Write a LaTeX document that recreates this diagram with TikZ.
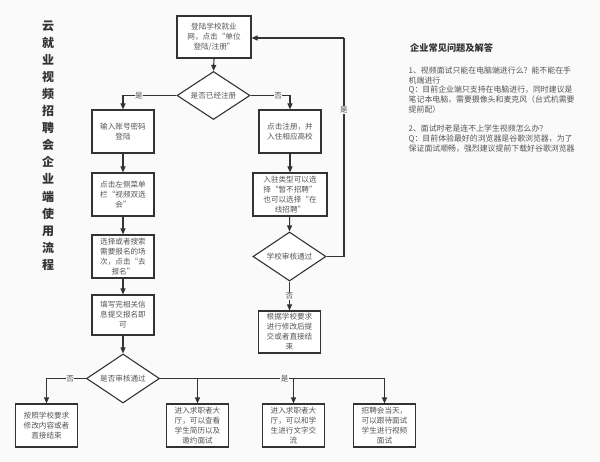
\documentclass[tikz,border=0pt]{standalone}
\usepackage{fontspec}
\setmainfont{Noto Sans CJK SC}
\usetikzlibrary{arrows.meta,shapes.geometric}
\definecolor{bgc}{HTML}{FAFAFA}
\definecolor{linec}{HTML}{333333}
\definecolor{txtc}{HTML}{555555}
\definecolor{titc}{HTML}{333333}
\begin{document}
\begin{tikzpicture}[x=1pt,y=-1pt,
  box/.style={draw=linec,line width=1.1pt,fill=white,rectangle,inner sep=0pt,
    minimum width=62pt,minimum height=43pt,align=center,text=txtc,
    font=\fontsize{7.6}{10}\selectfont},
  dia/.style={draw=linec,line width=1.1pt,fill=white,diamond,aspect=1.5,inner sep=0pt,
    minimum width=73pt,minimum height=48pt,align=center,text=txtc,
    font=\fontsize{7.6}{10}\selectfont},
  arr/.style={draw=linec,line width=1.1pt,-{Triangle[length=6pt,width=5pt]}},
  ln/.style={draw=linec,line width=1.1pt},
  lab/.style={fill=bgc,inner sep=0.5pt,text=txtc,font=\fontsize{7.6}{9}\selectfont}]
\fill[bgc] (0,0) rectangle (600,462);
\useasboundingbox (0,0) rectangle (600,462);
% title
\node[text=titc,align=center,font=\bfseries\fontsize{12}{17.1}\selectfont,anchor=north] (title) at (48,17)
 {云\\就\\业\\视\\频\\招\\聘\\会\\企\\业\\端\\使\\用\\流\\程};
% nodes
\node[box,minimum width=74pt,minimum height=42pt] (top) at (214,37) {登陆学校就业\\网，点击“单位\\登陆/注册”};
\node[dia] (d1) at (213.5,95.5) {是否已经注册};
\node[box] (b1) at (123,131.5) {输入账号密码\\登陆};
\node[box] (b2) at (123,194.5) {点击左侧菜单\\栏“视频双选\\会”};
\node[box] (b3) at (123,256.5) {选择或者搜索\\需要报名的场\\次，点击“去\\报名”};
\node[box,minimum height=40pt] (b4) at (123,315) {填写完相关信\\息提交报名即\\可};
\node[dia,minimum height=49pt] (d2) at (123,378.5) {是否审核通过};
\node[box] (bL) at (46.5,425.5) {按照学校要求\\修改内容或者\\直接结束};
\node[box] (bM1) at (197.5,425.5) {进入求职者大\\厅，可以查看\\学生简历以及\\邀约面试};
\node[box] (bM2) at (293.5,425.5) {进入求职者大\\厅，可以和学\\生进行文字交\\流};
\node[box] (bM3) at (384.5,425.5) {招聘会当天，\\可以跟待面试\\学生进行视频\\面试};
\node[box] (r1) at (290,131.5) {点击注册，并\\入住相应高校};
\node[box,minimum width=74pt] (r2) at (290,194.5) {入驻类型可以选\\择“暂不招聘”\\也可以选择“在\\线招聘”};
\node[dia,minimum height=49pt] (d3) at (289.5,256.5) {学校审核通过};
\node[box,minimum height=42pt] (r3) at (289.5,332) {根据学校要求\\进行修改后提\\交或者直接结\\束};
% connectors
\draw[arr] (top.south) -- (d1.north);
\draw[arr] (d1.west) -| node[lab,pos=0.35] {是} (b1.north);
\draw[arr] (d1.east) -| node[lab,pos=0.35] {否} (r1.north);
\draw[arr] (b1) -- (b2);
\draw[arr] (b2) -- (b3);
\draw[arr] (b3) -- (b4);
\draw[arr] (b4) -- (d2.north);
\draw[arr] (r1) -- (r2);
\draw[arr] (r2) -- (d3.north);
\draw[arr] (d3.south) -- node[lab,pos=0.5] {否} (r3.north);
\coordinate (up) at (344,256.5);
\coordinate (upt) at (344,38);
\draw[ln] (d3.east) -- (up) -- node[lab,pos=0.67] {是} (upt);
\draw[arr] (upt) -- (top.east |- upt);
\draw[arr] (d2.west) -| node[lab,pos=0.2] {否} (bL.north);
\coordinate (jr) at (bM3.north |- d2.east);
\draw[ln] (d2.east) -- node[lab,pos=0.555] {是} (jr);
\draw[arr] (jr) -- (bM3.north);
\draw[arr] (bM1.north |- d2.east) -- (bM1.north);
\draw[arr] (bM2.north |- d2.east) -- (bM2.north);
% FAQ
\node[anchor=west,text=titc,font=\bfseries\fontsize{9.2}{11}\selectfont,inner sep=0pt] (faqt) at (410,48) {企业常见问题及解答};
\node[anchor=north west,align=left,text=txtc,font=\fontsize{7.9}{9.75}\selectfont,inner sep=0pt] (faq) at (408.5,66.5)
 {1、视频面试只能在电脑端进行么？能不能在手\\机端进行\\Q：目前企业端只支持在电脑进行，同时建议是\\笔记本电脑，需要摄像头和麦克风（台式机需要\\提前配）\\[9.75pt]2、面试时老是连不上学生视频怎么办？\\Q：目前体验最好的浏览器是谷歌浏览器，为了\\保证面试顺畅，强烈建议提前下载好谷歌浏览器};
\end{tikzpicture}
\end{document}
